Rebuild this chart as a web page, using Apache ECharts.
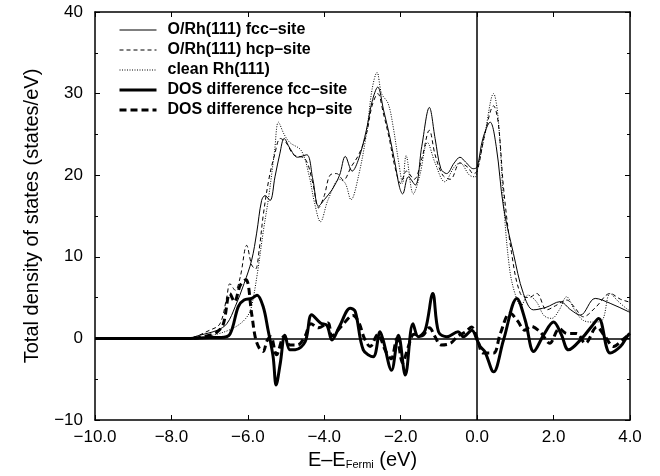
<!DOCTYPE html>
<html>
<head>
<meta charset="utf-8">
<script src="https://cdn.jsdelivr.net/npm/echarts@6/dist/echarts.min.js"></script>
<style>html,body{margin:0;padding:0;background:#fff;}#c{width:660px;height:476px;}</style>
</head>
<body>
<div id="c"></div>
<script>
// ---- data ----
var seriesNames = ['O/Rh(111) fcc\u2013site', 'O/Rh(111) hcp\u2013site', 'clean Rh(111)', 'DOS difference fcc\u2013site', 'DOS difference hcp\u2013site'];
var xTicks = [-10, -8, -6, -4, -2, 0, 2, 4];

var fccX = [-10, -7.6, -7.25, -6.8, -6.55, -6.33, -6.1, -5.9, -5.77, -5.64, -5.55, -5.42, -5.29, -5.16, -5.05, -4.9, -4.7, -4.46, -4.3, -4.15, -4.0, -3.8, -3.6, -3.45, -3.27, -3.1, -2.9, -2.75, -2.6, -2.45, -2.3, -2.15, -2.03, -1.95, -1.8, -1.62, -1.45, -1.25, -1.1, -0.95, -0.8, -0.6, -0.45, -0.3, -0.1, 0, 0.15, 0.34, 0.5, 0.69, 0.95, 1.21, 1.47, 1.8, 2.17, 2.45, 2.7, 3.09, 3.48, 3.95, 4.0];
var fccY = [0, 0, 0.4, 1.0, 1.8, 3.9, 6.7, 9.6, 12.9, 16.9, 17.5, 16.9, 19.8, 22.7, 24.5, 23.3, 22.2, 22.5, 19.5, 16.2, 17.0, 18.2, 20.0, 22.3, 20.5, 22.0, 25.5, 29.0, 30.8, 28.0, 25.0, 21.5, 18.5, 17.7, 19.8, 18.8, 23.5, 28.3, 24.5, 20.8, 20.2, 21.5, 22.2, 21.6, 20.8, 21.0, 24.5, 26.5, 23.5, 16.1, 10.4, 5.5, 3.5, 3.8, 4.5, 3.5, 2.85, 4.9, 4.3, 3.3, 3.2];

var hcpX = [-10, -7.6, -7.0, -6.73, -6.55, -6.47, -6.33, -6.2, -6.03, -5.9, -5.8, -5.7, -5.6, -5.45, -5.3, -5.15, -5.0, -4.8, -4.5, -4.3, -4.15, -4.0, -3.85, -3.68, -3.5, -3.3, -3.1, -2.9, -2.75, -2.6, -2.45, -2.3, -2.15, -2.0, -1.85, -1.65, -1.45, -1.25, -1.1, -0.9, -0.7, -0.45, -0.25, -0.1, 0, 0.2, 0.43, 0.55, 0.7, 0.9, 1.13, 1.35, 1.56, 1.82, 2.05, 2.34, 2.55, 2.78, 3.1, 3.48, 3.75, 3.95, 4.0];
var hcpY = [0, 0, 1.0, 1.8, 5.1, 6.7, 5.9, 7.5, 11.4, 9.0, 8.5, 11.0, 15.0, 19.5, 22.5, 24.5, 24.0, 22.5, 22.0, 19.0, 16.0, 17.5, 20.0, 20.2, 19.4, 21.0, 22.5, 25.0, 28.5, 30.0, 27.5, 24.5, 21.0, 19.0, 20.5, 19.5, 22.0, 25.5, 22.5, 20.0, 19.5, 21.5, 21.0, 20.2, 20.5, 25.0, 28.5, 26.5, 18.0, 10.5, 5.5, 5.0, 5.5, 3.5, 4.0, 4.7, 3.8, 2.65, 3.8, 5.5, 4.8, 4.5, 4.4];

var cleanX = [-10, -7.5, -7.0, -6.5, -6.2, -6.0, -5.9, -5.75, -5.6, -5.45, -5.3, -5.2, -5.05, -4.9, -4.6, -4.4, -4.25, -4.1, -3.9, -3.6, -3.45, -3.3, -3.1, -2.9, -2.75, -2.62, -2.5, -2.33, -2.2, -2.05, -1.95, -1.86, -1.67, -1.5, -1.3, -1.1, -0.85, -0.6, -0.45, -0.2, -0.05, 0, 0.2, 0.43, 0.55, 0.7, 0.85, 0.99, 1.15, 1.33, 1.55, 1.75, 1.95, 2.15, 2.34, 2.55, 2.78, 3.05, 3.27, 3.48, 3.7, 3.95, 4.0];
var cleanY = [0, 0, 0.3, 1.0, 1.8, 2.8, 4.0, 8.0, 13.0, 17.5, 23.0, 26.5, 25.0, 24.0, 23.0, 20.0, 16.5, 14.3, 17.0, 19.5, 19.0, 17.0, 20.0, 25.0, 30.5, 32.6, 30.0, 28.8, 26.0, 21.5, 19.0, 22.4, 17.7, 20.0, 24.0, 21.5, 19.2, 21.0, 21.5, 20.0, 19.8, 20.5, 25.0, 30.0, 27.0, 16.0, 8.5, 5.5, 4.0, 5.3, 4.5, 2.8, 2.45, 3.5, 5.1, 3.5, 2.2, 2.0, 2.2, 5.5, 4.5, 3.5, 3.4];

var dfccX = [-10, -7.5, -7.0, -6.7, -6.47, -6.25, -6.1, -5.9, -5.76, -5.6, -5.47, -5.34, -5.26, -5.15, -5.03, -4.9, -4.76, -4.5, -4.33, -4.1, -3.93, -3.8, -3.6, -3.32, -3.19, -2.98, -2.72, -2.54, -2.46, -2.24, -2.06, -1.88, -1.68, -1.54, -1.36, -1.16, -1.01, -0.79, -0.5, -0.36, -0.14, 0, 0.08, 0.2, 0.43, 0.69, 1.04, 1.26, 1.48, 1.75, 2.0, 2.2, 2.39, 2.74, 3.0, 3.18, 3.48, 3.75, 3.95, 4.0];
var dfccY = [0, 0, 0.1, 0.1, 0.5, 3.9, 4.7, 4.9, 5.3, 3.9, 1.0, -2.2, -5.7, -3.0, 0.4, -1.4, -1.4, -0.4, 2.9, 1.9, 1.6, -0.2, 1.5, 3.7, 3.3, -1.4, -2.25, 0.8, -0.2, -3.9, 0.4, -4.5, 1.8, 0.2, 1.0, 5.5, 0.8, 0.2, 0.8, 0.2, 1.0, -0.2, -1.0, -1.6, -4.1, -0.2, 4.9, 2.2, -1.6, 0.5, 2.0, 0.5, -1.4, 0.0, 1.5, 2.45, -1.8, -1.0, 0.4, 0.6];

var dhcpX = [-10, -7.5, -7.0, -6.8, -6.64, -6.47, -6.35, -6.2, -6.05, -5.9, -5.8, -5.7, -5.6, -5.5, -5.4, -5.25, -5.05, -4.9, -4.7, -4.5, -4.35, -4.15, -3.9, -3.8, -3.55, -3.25, -3.1, -2.95, -2.8, -2.6, -2.4, -2.25, -2.1, -1.95, -1.8, -1.65, -1.45, -1.25, -1.1, -0.95, -0.7, -0.5, -0.3, -0.15, 0, 0.16, 0.43, 0.6, 0.86, 1.05, 1.25, 1.4, 1.65, 1.9, 2.15, 2.35, 2.6, 2.83, 3.13, 3.35, 3.57, 3.8, 4.0];
var dhcpY = [0, 0, 0.4, 0.8, 1.8, 5.5, 4.5, 6.5, 7.2, 3.0, 0.0, -1.2, -1.6, -0.3, 0.2, -2.0, 0.3, -0.8, -0.8, 0.3, 1.8, 1.3, 1.9, 0.3, 1.5, 2.8, 2.0, 0.0, -1.0, 0.5, -1.5, -2.5, 0.0, -3.0, -1.0, 0.5, 0.3, 1.3, 0.2, -0.8, -0.6, 0.3, 0.8, 1.4, 0.0, -1.8, -1.8, 0.5, 3.1, 2.2, 1.0, 1.5, 0.8, -0.6, 1.2, 0.6, 0.6, -0.6, 1.4, 0.2, -1.0, -0.2, 0.6];

function zip(xs, ys) { return xs.map(function (x, i) { return [x, ys[i]]; }); }

var FONT = '"Liberation Sans", Arial, Helvetica, sans-serif';
var chart = echarts.init(document.getElementById('c'), null, { renderer: 'canvas' });

var widths = [1, 1, 1, 3, 3];
var dashes = ['solid', [4, 3], [1, 1.5], 'solid', [7, 4]];

function lineSeries(i, xs, ys, z) {
  return {
    name: seriesNames[i], type: 'line', data: zip(xs, ys), smooth: 0.35,
    symbol: 'none', showSymbol: false, z: z,
    itemStyle: { color: '#000', opacity: 0 },
    lineStyle: { color: '#000', width: widths[i], type: dashes[i] },
    emphasis: { disabled: true }, animation: false
  };
}

var axisCommon = {
  axisLine: { show: true, onZero: false, lineStyle: { color: '#000', width: 1.5 } },
  splitLine: { show: false }
};

var option = {
  animation: false,
  backgroundColor: '#fff',
  color: ['#000'],
  grid: { left: 95, right: 30, top: 12, bottom: 56, containLabel: false },
  legend: {
    orient: 'vertical', left: 118, top: 20, padding: 0,
    itemWidth: 37, itemHeight: 20, itemGap: 0,
    data: seriesNames.map(function (n, i) {
      return { name: n, itemStyle: { opacity: 0 }, lineStyle: { width: widths[i], type: dashes[i], color: '#000' } };
    }),
    itemStyle: { opacity: 0 },
    textStyle: { fontFamily: FONT, fontSize: 16, fontWeight: 'bold', color: '#000', lineHeight: 20, padding: [0, 0, 0, 6] },
    selectedMode: false
  },
  xAxis: [
    Object.assign({}, axisCommon, {
      type: 'value', min: -10, max: 4, interval: 2, position: 'bottom',
      name: '{a|E\u2013E}{b|Fermi}{a| (eV)}', nameLocation: 'middle', nameGap: 15,
      nameTextStyle: {
        fontFamily: FONT, color: '#000',
        rich: {
          a: { fontFamily: FONT, fontSize: 20, lineHeight: 26, verticalAlign: 'bottom', color: '#000' },
          b: { fontFamily: FONT, fontSize: 11, lineHeight: 12, verticalAlign: 'bottom', color: '#000' }
        }
      },
      axisTick: { show: true, inside: true, length: 5, lineStyle: { color: '#000', width: 1 } },
      axisLabel: { fontFamily: FONT, fontSize: 17, color: '#000', margin: 9,
        formatter: function (v) { return (v < 0 ? '\u2212' : '') + Math.abs(v).toFixed(1); } }
    }),
    Object.assign({}, axisCommon, {
      type: 'value', min: -10, max: 4, interval: 2, position: 'top',
      axisTick: { show: true, inside: true, length: 5, lineStyle: { color: '#000', width: 1 } },
      axisLabel: { show: false }
    })
  ],
  yAxis: [
    Object.assign({}, axisCommon, {
      type: 'value', min: -10, max: 40, interval: 10, position: 'left',
      name: 'Total density of states (states/eV)', nameLocation: 'middle', nameGap: 53, nameRotate: 90,
      nameTextStyle: { fontFamily: FONT, fontSize: 20, color: '#000' },
      axisTick: { show: true, inside: true, length: 5, lineStyle: { color: '#000', width: 1 } },
      minorTick: { show: true, splitNumber: 2, length: 3, lineStyle: { color: '#000', width: 1 } },
      axisLabel: { fontFamily: FONT, fontSize: 17, color: '#000', margin: 12,
        formatter: function (v) { return (v < 0 ? '\u2212' : '') + Math.abs(v); } }
    }),
    Object.assign({}, axisCommon, {
      type: 'value', min: -10, max: 40, interval: 10, position: 'right',
      axisTick: { show: true, inside: true, length: 5, lineStyle: { color: '#000', width: 1 } },
      minorTick: { show: true, splitNumber: 2, length: 3, lineStyle: { color: '#000', width: 1 } },
      axisLabel: { show: false }
    })
  ],
  series: [
    Object.assign(lineSeries(0, fccX, fccY, 5), {
      markLine: {
        silent: true, symbol: 'none', animation: false, label: { show: false },
        lineStyle: { color: '#000', width: 1.5, type: 'solid', opacity: 1 },
        data: [{ yAxis: 0 }, { xAxis: 0 }]
      }
    }),
    lineSeries(1, hcpX, hcpY, 4),
    lineSeries(2, cleanX, cleanY, 3),
    lineSeries(3, dfccX, dfccY, 6),
    lineSeries(4, dhcpX, dhcpY, 6)
  ]
};
chart.setOption(option);
</script>
</body>
</html>
